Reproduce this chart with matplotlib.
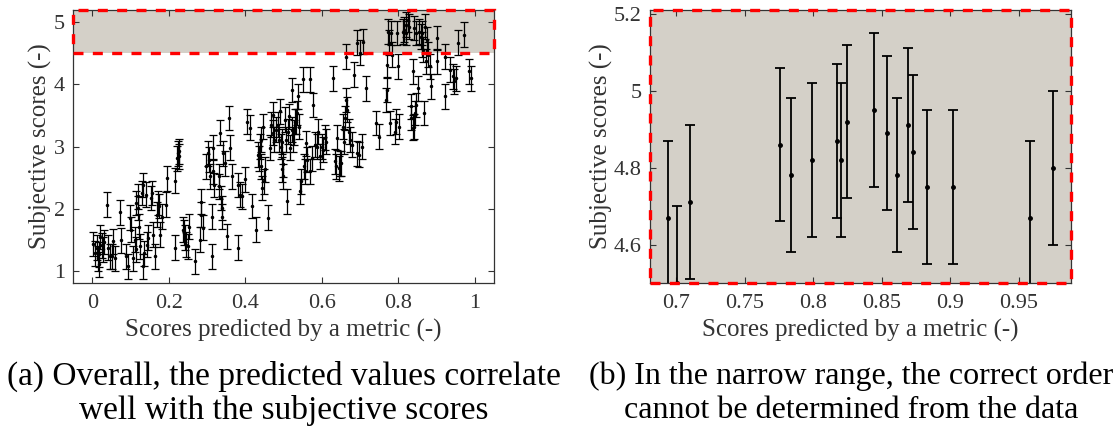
import matplotlib
matplotlib.use("Agg")
import matplotlib.pyplot as plt
from matplotlib.patches import Rectangle
from matplotlib.ticker import FuncFormatter
import matplotlib.transforms as mtransforms

plt.rcParams['font.family'] = ['Liberation Serif', 'DejaVu Serif']
plt.rcParams['mathtext.fontset'] = 'stix'

# ---------------- data: panel (a) ----------------
left_x = [0.002, 0.007, 0.011, 0.014, 0.016, 0.018, 0.021, 0.024, 0.027, 0.030,
          0.039, 0.041, 0.046, 0.050, 0.054, 0.059, 0.072, 0.076, 0.089, 0.094,
          0.098, 0.101, 0.107, 0.111, 0.114, 0.115, 0.118, 0.120, 0.122, 0.124,
          0.129, 0.131, 0.133, 0.135, 0.139, 0.143, 0.146, 0.152, 0.155, 0.159,
          0.163, 0.168, 0.172, 0.175, 0.178, 0.181, 0.192, 0.196, 0.215, 0.217,
          0.222, 0.224, 0.226, 0.227, 0.237, 0.239, 0.242, 0.244, 0.251, 0.253,
          0.268, 0.281, 0.283, 0.285, 0.290, 0.298, 0.303, 0.305, 0.307, 0.312,
          0.312, 0.316, 0.316, 0.318, 0.330, 0.332, 0.333, 0.335, 0.338, 0.340,
          0.342, 0.346, 0.353, 0.358, 0.361, 0.366, 0.381, 0.381, 0.386, 0.390,
          0.400, 0.403, 0.412, 0.418, 0.429, 0.434, 0.436, 0.438, 0.441, 0.442,
          0.444, 0.447, 0.448, 0.451, 0.460, 0.464, 0.468, 0.471, 0.473, 0.475,
          0.480, 0.486, 0.488, 0.490, 0.492, 0.495, 0.496, 0.497, 0.499, 0.503,
          0.506, 0.508, 0.512, 0.515, 0.516, 0.521, 0.523, 0.525, 0.528, 0.529,
          0.532, 0.536, 0.538, 0.541, 0.542, 0.545, 0.551, 0.553, 0.556, 0.558,
          0.560, 0.569, 0.570, 0.573, 0.577, 0.582, 0.586, 0.590, 0.595, 0.599,
          0.603, 0.608, 0.612, 0.628, 0.634, 0.637, 0.640, 0.644, 0.647, 0.650,
          0.654, 0.657, 0.660, 0.663, 0.664, 0.666, 0.670, 0.673, 0.680, 0.684,
          0.691, 0.693, 0.698, 0.699, 0.704, 0.708, 0.715, 0.741, 0.750, 0.767,
          0.769, 0.771, 0.773, 0.776, 0.778, 0.780, 0.782, 0.791, 0.795, 0.797,
          0.800, 0.802, 0.813, 0.815, 0.820, 0.821, 0.824, 0.828, 0.833, 0.834,
          0.837, 0.839, 0.840, 0.841, 0.843, 0.846, 0.847, 0.852, 0.854, 0.858,
          0.861, 0.863, 0.865, 0.867, 0.869, 0.872, 0.874, 0.878, 0.882, 0.884,
          0.900, 0.902, 0.922, 0.922, 0.936, 0.942, 0.946, 0.950, 0.956, 0.972,
          0.985, 0.989]
left_y = [1.43, 1.28, 1.37, 1.20, 1.10, 1.26, 1.54, 1.41, 1.34, 1.46,
          2.06, 1.37, 1.23, 1.23, 1.47, 1.20, 1.94, 1.49, 1.23, 1.07,
          1.85, 1.66, 1.20, 1.50, 1.34, 2.09, 2.20, 2.01, 1.71, 1.39,
          2.25, 2.38, 1.07, 1.28, 2.22, 1.42, 1.53, 2.17, 2.25, 1.58,
          1.23, 1.90, 2.09, 2.04, 1.58, 1.87, 2.06, 2.49, 1.37, 2.45,
          2.81, 2.89, 2.92, 2.84, 1.66, 1.61, 1.53, 1.42, 1.39, 1.71,
          1.15, 1.50, 2.11, 1.90, 1.69, 2.68, 2.89, 2.79, 2.52, 1.87,
          1.23, 2.98, 2.60, 2.38, 2.36, 2.52, 3.22, 2.17, 2.01, 1.87,
          2.89, 2.73, 1.55, 3.46, 2.98, 2.52, 1.37, 2.38, 2.22, 2.20,
          2.47, 3.40, 3.30, 2.04, 1.66, 2.87, 2.81, 3.00, 3.11, 2.68,
          2.33, 3.32, 2.44, 2.63, 1.85, 2.98, 3.35, 3.51, 3.22, 3.11,
          3.27, 3.35, 3.11, 3.57, 3.00, 3.08, 2.63, 2.52, 2.71, 3.43,
          3.11, 2.12, 3.24, 3.49, 2.98, 3.91, 3.27, 3.11, 3.22, 3.40,
          3.40, 3.54, 3.81, 3.32, 2.28, 2.44, 4.08, 2.68, 2.60, 3.05,
          2.79, 4.08, 2.60, 2.81, 3.67, 3.03, 3.00, 3.24, 2.84, 3.00,
          2.95, 3.14, 3.08, 4.10, 2.76, 2.68, 3.14, 2.65, 2.73, 2.73,
          3.32, 3.08, 3.46, 3.75, 4.45, 3.59, 3.24, 3.11, 3.03, 4.16,
          4.67, 2.89, 2.87, 4.51, 3.00, 4.69, 3.94, 3.38, 3.16, 3.75,
          3.91, 4.32, 4.85, 4.67, 3.38, 4.83, 4.48, 3.24, 3.40, 4.83,
          4.29, 3.32, 4.85, 4.88, 4.96, 4.83, 5.04, 4.93, 3.65, 3.46,
          3.30, 4.21, 4.91, 3.32, 3.54, 4.83, 3.67, 3.94, 4.85, 4.77,
          4.83, 4.64, 4.56, 3.54, 4.93, 4.37, 4.72, 4.48, 4.29, 3.97,
          4.75, 4.37, 4.45, 3.81, 4.24, 4.13, 4.05, 4.10, 4.67, 4.80,
          4.21, 4.10]
LEFT_ERR = 0.2

# ---------------- data: panel (b) ----------------
right_x = [0.694, 0.701, 0.710, 0.776, 0.784, 0.799, 0.817, 0.820, 0.825,
           0.844, 0.854, 0.861, 0.869, 0.873, 0.883, 0.902, 0.958, 0.975]
right_y = [4.67, 4.50, 4.71, 4.86, 4.78, 4.82, 4.87, 4.82, 4.92,
           4.95, 4.89, 4.78, 4.91, 4.84, 4.75, 4.75, 4.67, 4.80]
RIGHT_ERR = 0.2

left_xticks = [0, 0.2, 0.4, 0.6, 0.8, 1]
left_yticks = [1, 2, 3, 4, 5]
right_xticks = [0.7, 0.75, 0.8, 0.85, 0.9, 0.95]
right_yticks = [4.6, 4.8, 5, 5.2]
box_ylim = (4.5, 5.2)

xlabel = "Scores predicted by a metric (-)"
ylabel = "Subjective scores (-)"
caption_a = ["(a) Overall, the predicted values correlate", "well with the subjective scores"]
caption_b = ["(b) In the narrow range, the correct order", "cannot be determined from the data"]

FILL = "#d4d0c8"
RED = "#ff0000"
TXT = "#333333"
W, H = 1118, 432
DASH = (0, (3.0, 2.8))
RED_LW = 2.4

fig = plt.figure(figsize=(W / 100, H / 100), dpi=100)
axL = fig.add_axes([73.3 / W, 1 - 283 / H, 420.7 / W, 273 / H])
axR = fig.add_axes([650 / W, 1 - 283 / H, 421 / W, 273 / H])

gfmt = FuncFormatter(lambda v, p: f"{v:g}")

for ax in (axL, axR):
    ax.tick_params(direction='in', top=True, right=True, labelsize=16,
                   length=4, width=0.8, color=TXT, labelcolor=TXT)
    ax.tick_params(axis='x', pad=8)
    ax.tick_params(axis='y', pad=6)
    for s in ax.spines.values():
        s.set_color(TXT)
        s.set_linewidth(0.9)
    ax.xaxis.set_major_formatter(gfmt)
    ax.yaxis.set_major_formatter(gfmt)
    ax.set_xlabel(xlabel, fontsize=18, color=TXT)
    ax.set_ylabel(ylabel, fontsize=18, color=TXT)

axL.xaxis.set_label_coords(0.5, -0.13)
axR.xaxis.set_label_coords(0.5, -0.13)
axL.yaxis.set_label_coords(-0.05, 0.5)
axR.yaxis.set_label_coords(-0.088, 0.5)

# ---- panel (a)
axL.set_xlim(-0.05, 1.05)
axL.set_ylim(0.8, 5.2)
axL.set_xticks(left_xticks)
axL.set_yticks(left_yticks)
trans = mtransforms.blended_transform_factory(axL.transAxes, axL.transData)
axL.add_patch(Rectangle((0, box_ylim[0]), 1, box_ylim[1] - box_ylim[0], transform=trans,
                        facecolor=FILL, edgecolor='none', zorder=0.5))
axL.add_patch(Rectangle((0, box_ylim[0]), 1, box_ylim[1] - box_ylim[0], transform=trans,
                        facecolor='none', edgecolor=RED, lw=RED_LW, linestyle=DASH,
                        zorder=4, clip_on=False))
axL.errorbar(left_x, left_y, yerr=LEFT_ERR, fmt='.', color='black', ms=3,
             elinewidth=0.9, capsize=3, capthick=0.9, zorder=2)

# ---- panel (b)
axR.set_xlim(0.681, 0.988)
axR.set_ylim(4.5, 5.21)
axR.set_xticks(right_xticks)
axR.set_yticks(right_yticks)
axR.add_patch(Rectangle((0, 0), 1, 1, transform=axR.transAxes,
                        facecolor=FILL, edgecolor='none', zorder=0.5))
axR.add_patch(Rectangle((0, 0), 1, 1, transform=axR.transAxes,
                        facecolor='none', edgecolor=RED, lw=RED_LW, linestyle=DASH,
                        zorder=4, clip_on=False))
axR.errorbar(right_x, right_y, yerr=RIGHT_ERR, fmt='.', color='black', ms=5,
             elinewidth=1.3, capsize=3.5, capthick=1.3, zorder=2)

# ---- captions
fig.text(283.6 / W, 1 - 376 / H, caption_a[0], ha='center', va='center', fontsize=24)
fig.text(283.6 / W, 1 - 411 / H, caption_a[1], ha='center', va='center', fontsize=24)
fig.text(851 / W, 1 - 376 / H, caption_b[0], ha='center', va='center', fontsize=23)
fig.text(851 / W, 1 - 411 / H, caption_b[1], ha='center', va='center', fontsize=23)

fig.savefig("out.png", dpi=100)
